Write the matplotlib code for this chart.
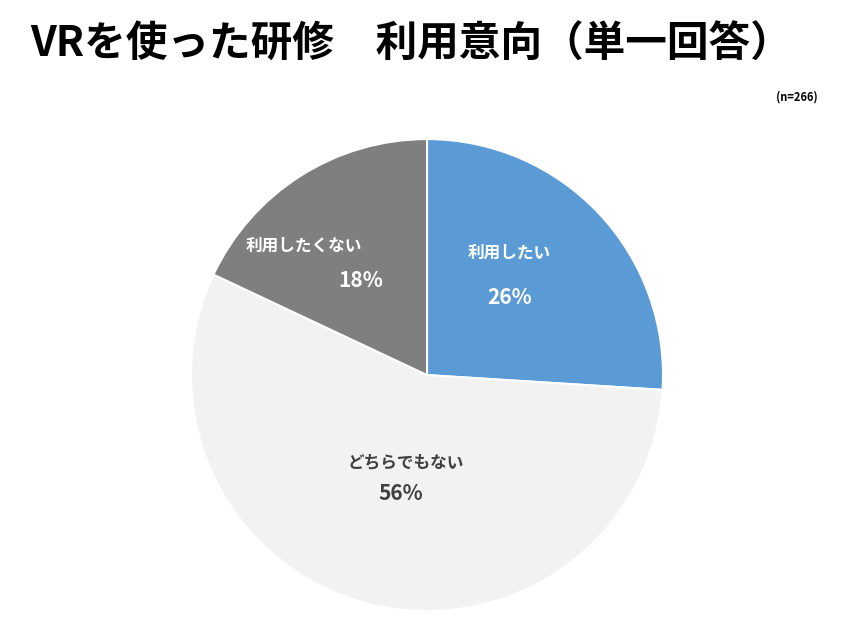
import matplotlib
matplotlib.use('Agg')
import matplotlib.pyplot as plt

plt.rcParams['font.family'] = ['Noto Sans CJK JP', 'DejaVu Sans']

labels = ['利用したい', 'どちらでもない', '利用したくない']
shares = [26, 56, 18]
colors = ['#5b9bd5', '#f2f2f2', '#7f7f7f']
text_colors = ['white', '#404040', 'white']
# label / percent offsets relative to pie center (in radius units)
label_pos = [(0.35, 0.52), (-0.09, -0.37), (-0.52, 0.55)]
pct_pos = [(0.35, 0.33), (-0.11, -0.50), (-0.28, 0.40)]

fig = plt.figure(figsize=(8.53, 6.4), dpi=100)
ax = fig.add_axes([0.5006 - 0.2767, 0.414 - 0.3688, 0.5534, 0.7375])
ax.pie(shares, colors=colors, startangle=90, counterclock=False,
       wedgeprops=dict(edgecolor='white', linewidth=1.5))
ax.set_xlim(-1, 1)
ax.set_ylim(-1, 1)
ax.set_aspect('equal')

for lab, val, tc, lp, pp in zip(labels, shares, text_colors, label_pos, pct_pos):
    ax.text(lp[0], lp[1], lab, color=tc, fontsize=12, fontweight='bold', ha='center', va='center')
    ax.text(pp[0], pp[1], f'{val}%', color=tc, fontsize=15, fontweight='bold', ha='center', va='center')

fig.text(30 / 853, 1 - 45 / 640, 'VRを使った研修　利用意向（単一回答）',
         fontsize=30, fontweight='bold', ha='left', va='center')
fig.text(818 / 853, 1 - 97 / 640, '(n=266)', fontsize=8, fontweight='bold', ha='right', va='center')

fig.savefig('out.png', dpi=100)
